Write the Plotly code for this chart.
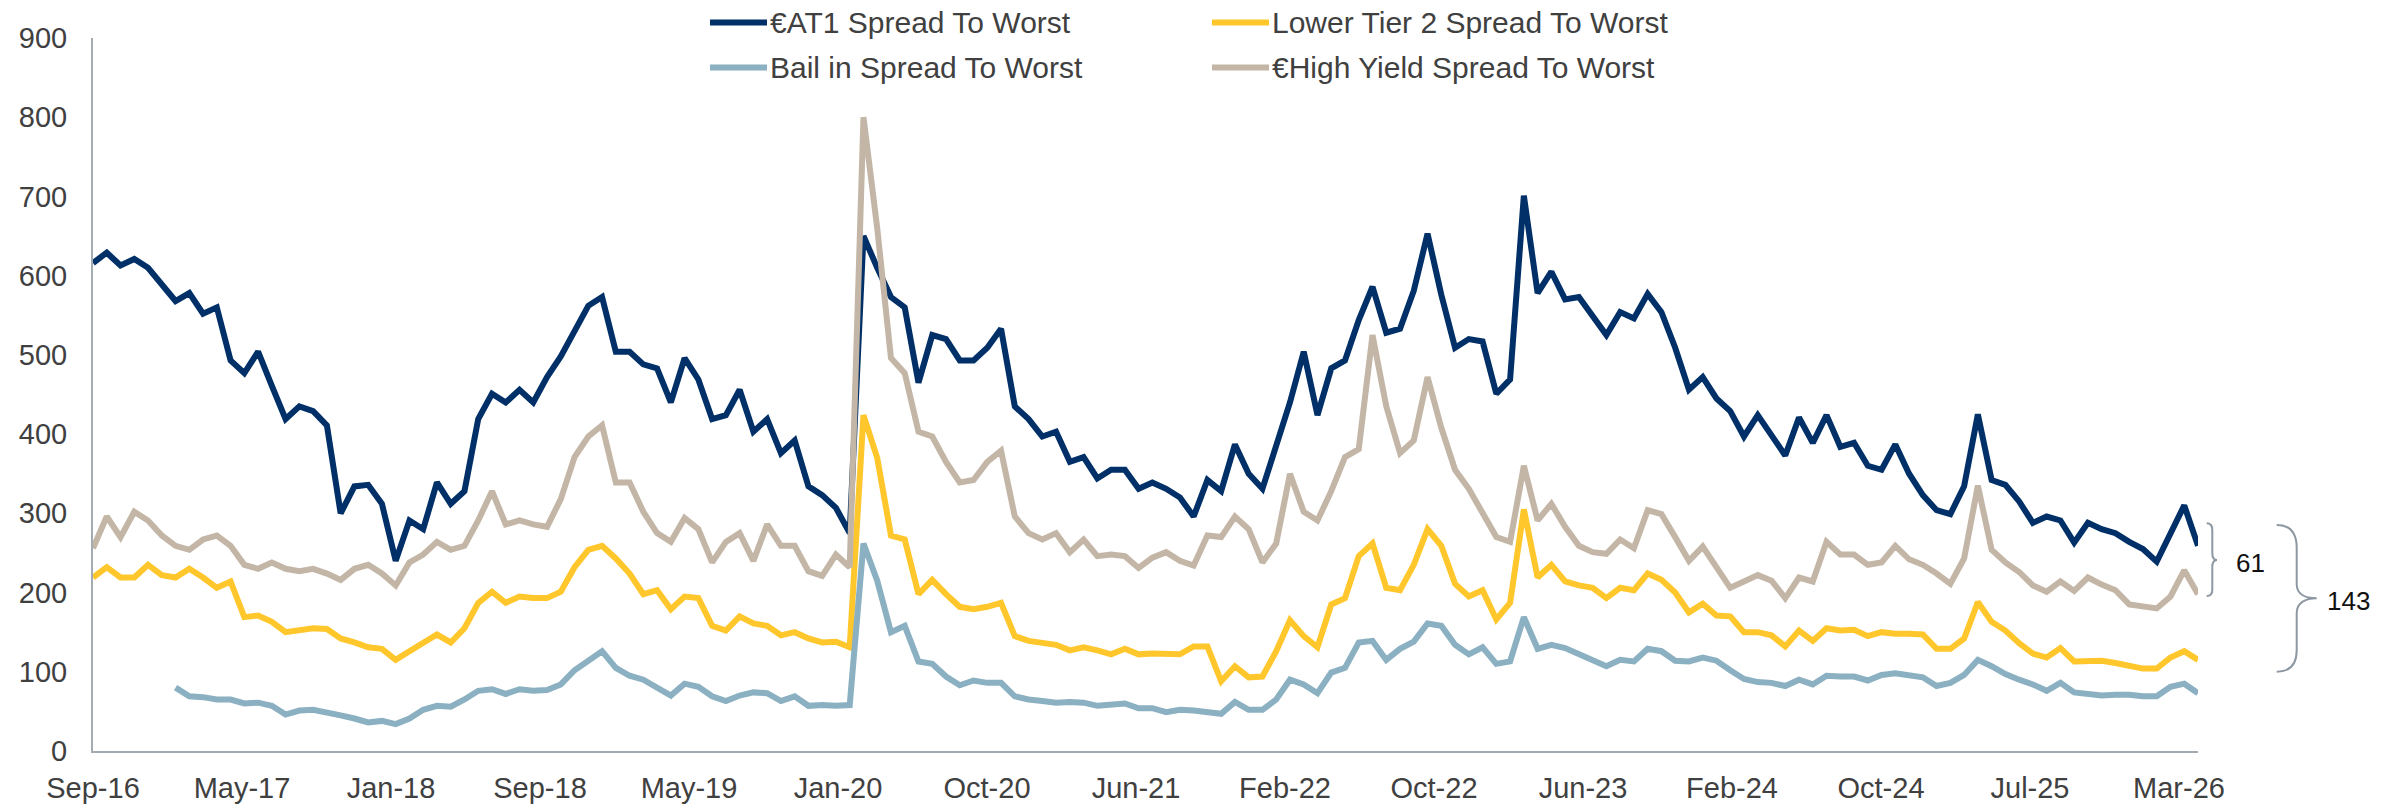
import plotly.graph_objects as go

# ---------------- data ----------------
tick_labels = ["Sep-16", "May-17", "Jan-18", "Sep-18", "May-19", "Jan-20", "Oct-20",
               "Jun-21", "Feb-22", "Oct-22", "Jun-23", "Feb-24", "Oct-24", "Jul-25", "Mar-26"]
points_per_label = 10.83   # data points between two consecutive axis labels

at1 = [616, 629, 613, 621, 610, 589, 568, 578, 552, 560,
       493, 477, 504, 461, 419, 435, 429, 411, 300, 334,
       336, 312, 240, 291, 280, 339, 312, 328, 419, 451,
       440, 456, 440, 472, 498, 530, 562, 573, 504,
       504, 488, 483, 440, 496, 469, 419, 424, 456, 403,
       419, 376, 392, 334, 323, 307, 275, 650, 610, 573,
       560, 465, 525, 520, 493, 493, 509, 533, 435, 419,
       397, 403, 365, 371, 344, 355, 355, 331, 339,
       331, 320, 296, 342, 328, 387, 350, 331, 387, 440,
       504, 424, 483, 493, 544, 586, 528, 533, 581, 653,
       576, 509, 520, 517, 451, 469, 701, 578, 605, 570,
       573, 549, 525, 554, 546, 577, 554, 509,
       456, 472, 445, 429, 397, 424, 400, 373, 421, 389,
       424, 384, 389, 360, 355, 387, 350, 323, 304, 299,
       334, 425, 342, 336, 315, 288, 296, 291, 263, 288,
       280, 275, 264, 255, 239, 275, 310, 259]

lt2 = [219, 232, 219, 219, 235, 222, 219, 230, 219, 206,
       214, 169, 171, 163, 150, 153, 155, 154, 142, 137,
       131, 129, 115, 126, 137, 147, 137, 155, 187, 201,
       187, 195, 193, 193, 201, 232, 254, 259, 243,
       224, 198, 203, 179, 195, 193, 158, 152, 170, 161,
       158, 146, 150, 142, 137, 138, 131, 424, 370, 272,
       267, 198, 216, 198, 182, 179, 182, 187, 145, 139,
       136, 134, 127, 131, 127, 122, 129, 122, 123,
       122, 122, 132, 132, 88, 107, 93, 94, 126, 165,
       145, 131, 185, 193, 246, 262, 206, 203, 235, 280,
       259, 211, 195, 203, 166, 187, 305, 219, 235, 214,
       209, 206, 193, 206, 203, 224, 216, 200,
       175, 186, 171, 170, 150, 150, 146, 132, 152, 139,
       155, 152, 153, 145, 150, 148, 148, 147, 129, 129,
       142, 188, 163, 152, 136, 123, 118, 130, 113, 114,
       114, 111, 107, 104, 104, 118, 126, 115]

bail = [None, None, None, None, None, None, 80, 69, 68, 65,
        65, 60, 61, 57, 46, 51, 52, 49, 45, 41,
        36, 38, 34, 41, 52, 57, 56, 65, 76, 78,
        72, 78, 76, 77, 84, 102, 113, 126, 105,
        95, 90, 79, 70, 85, 81, 69, 63, 70, 74,
        73, 63, 69, 57, 58, 57, 58, 262, 215, 150,
        158, 113, 110, 94, 83, 89, 86, 86, 69, 65,
        63, 61, 62, 61, 57, 59, 60, 54, 54,
        49, 52, 51, 49, 47, 62, 52, 52, 65, 90,
        84, 73, 99, 105, 137, 139, 115, 129, 138, 161,
        158, 134, 122, 131, 110, 113, 169, 129, 134, 130,
        122, 114, 107, 115, 113, 129, 126, 114,
        113, 118, 114, 102, 91, 87, 86, 82, 90, 84,
        95, 94, 94, 89, 96, 98, 96, 93, 82, 86,
        96, 115, 107, 97, 90, 84, 76, 86, 74, 72,
        70, 71, 71, 69, 69, 81, 85, 73]

hy = [256, 296, 270, 302, 291, 272, 259, 254, 267, 272,
      259, 235, 230, 238, 230, 227, 230, 224, 216, 230,
      235, 224, 209, 238, 248, 264, 254, 259, 291, 328,
      286, 291, 286, 283, 318, 371, 397, 411, 339,
      339, 302, 275, 264, 294, 280, 238, 264, 275, 240,
      286, 259, 259, 227, 221, 248, 232, 800, 660, 496,
      477, 403, 397, 365, 339, 342, 365, 379, 296, 275,
      267, 275, 251, 267, 246, 248, 246, 231, 244,
      251, 240, 234, 272, 270, 296, 280, 238, 262, 350,
      302, 291, 328, 371, 381, 525, 435, 376, 392, 472,
      408, 355, 331, 302, 270, 264, 360, 291, 312, 283,
      259, 251, 249, 267, 256, 304, 299, 270,
      240, 258, 232, 206, 214, 222, 215, 193, 219, 214,
      264, 248, 248, 235, 238, 259, 242, 235, 224, 211,
      243, 335, 254, 238, 226, 209, 201, 214, 202, 219,
      210, 203, 185, 182, 180, 195, 228, 198]

series_names = ["€AT1 Spread To Worst", "Lower Tier 2 Spread To Worst",
                "Bail in Spread To Worst", "€High Yield Spread To Worst"]
series_values = [at1, lt2, bail, hy]
series_colors = ["#003067", "#FFC72C", "#8AB0C2", "#C4B6A6"]

gap_labels = ["61", "143"]

for s in series_values:
    assert len(s) == len(at1), len(s)

# ---------------- figure ----------------
W, H = 2392, 805
ML, MR, MT, MB = 93, 194, 38, 54
PW, PH = W - ML - MR, H - MT - MB
FONT = "Liberation Sans, Arial, sans-serif"
TXT = "#404040"
AXIS = "#A3ABB3"
LW = 6


def px(xp):
    return (xp - ML) / PW


def py(yp):
    return (H - MB - yp) / PH


n = len(at1)
x = list(range(n))

fig = go.Figure()
for name, vals, col in zip(series_names, series_values, series_colors):
    fig.add_trace(go.Scatter(x=x, y=vals, name=name, mode="lines",
                             line=dict(color=col, width=LW),
                             connectgaps=False, showlegend=False))

tickvals = [i * points_per_label for i in range(len(tick_labels))]

fig.update_layout(
    width=W, height=H, autosize=False,
    margin=dict(l=ML, r=MR, t=MT, b=MB, pad=0, autoexpand=False),
    paper_bgcolor="white", plot_bgcolor="white",
    font=dict(family=FONT, size=29, color=TXT),
    showlegend=False,
    xaxis=dict(range=[0, n - 1], tickvals=tickvals, ticktext=tick_labels,
               showgrid=False, zeroline=False, showline=True, linecolor=AXIS,
               linewidth=2, ticks="", ticklabelstandoff=10, automargin=False,
               tickfont=dict(family=FONT, size=29, color=TXT)),
    yaxis=dict(range=[0, 900], dtick=100, tick0=0,
               showgrid=False, zeroline=False, showline=True, linecolor=AXIS,
               linewidth=2, ticks="", ticklabelstandoff=18, automargin=False,
               tickfont=dict(family=FONT, size=29, color=TXT)),
)

# ---- manual legend (2 x 2) ----
legend_pos = [(710, 22.5), (1212, 22.5), (710, 67.5), (1212, 67.5)]
shapes = []
annotations = []
for (lx, ly), name, col in zip(legend_pos, series_names, series_colors):
    shapes.append(dict(type="line", xref="paper", yref="paper",
                       x0=px(lx), x1=px(lx + 57), y0=py(ly), y1=py(ly),
                       line=dict(color=col, width=LW)))
    annotations.append(dict(xref="paper", yref="paper", x=px(lx + 58), y=py(ly),
                            text=name, showarrow=False, xanchor="left", yanchor="middle",
                            font=dict(family=FONT, size=30, color=TXT)))


def path(pts):
    out = []
    for cmd, coords in pts:
        out.append(cmd + " " + " ".join(f"{px(a):.5f},{py(b):.5f}" for a, b in coords))
    return " ".join(out)


small_brace = path([
    ("M", [(2206.7, 523.3)]),
    ("Q", [(2212.3, 523.3), (2212.3, 530)]),
    ("L", [(2212.3, 553)]),
    ("Q", [(2212.3, 560), (2217, 560)]),
    ("Q", [(2212.3, 560), (2212.3, 567)]),
    ("L", [(2212.3, 590)]),
    ("Q", [(2212.3, 596), (2206.7, 596)]),
])
big_brace = path([
    ("M", [(2276.7, 525)]),
    ("C", [(2290, 525), (2296.7, 532), (2296.7, 548)]),
    ("L", [(2296.7, 584)]),
    ("C", [(2296.7, 594), (2305, 598.3), (2316.7, 598.3)]),
    ("C", [(2305, 598.3), (2296.7, 603), (2296.7, 613)]),
    ("L", [(2296.7, 650)]),
    ("C", [(2296.7, 664), (2290, 671.7), (2276.7, 671.7)]),
])
for p in (small_brace, big_brace):
    shapes.append(dict(type="path", xref="paper", yref="paper", path=p,
                       line=dict(color="#8E98A2", width=2)))

annotations.append(dict(xref="paper", yref="paper", x=px(2250), y=py(563),
                        text=gap_labels[0], showarrow=False, xanchor="center",
                        yanchor="middle", font=dict(family=FONT, size=26, color="#111111")))
annotations.append(dict(xref="paper", yref="paper", x=px(2348), y=py(601),
                        text=gap_labels[1], showarrow=False, xanchor="center",
                        yanchor="middle", font=dict(family=FONT, size=26, color="#111111")))

fig.update_layout(shapes=shapes, annotations=annotations)
fig.write_html("out.html",
               config={"displayModeBar": False},
               post_script="document.body.style.margin='0px';document.body.style.padding='0px';")
